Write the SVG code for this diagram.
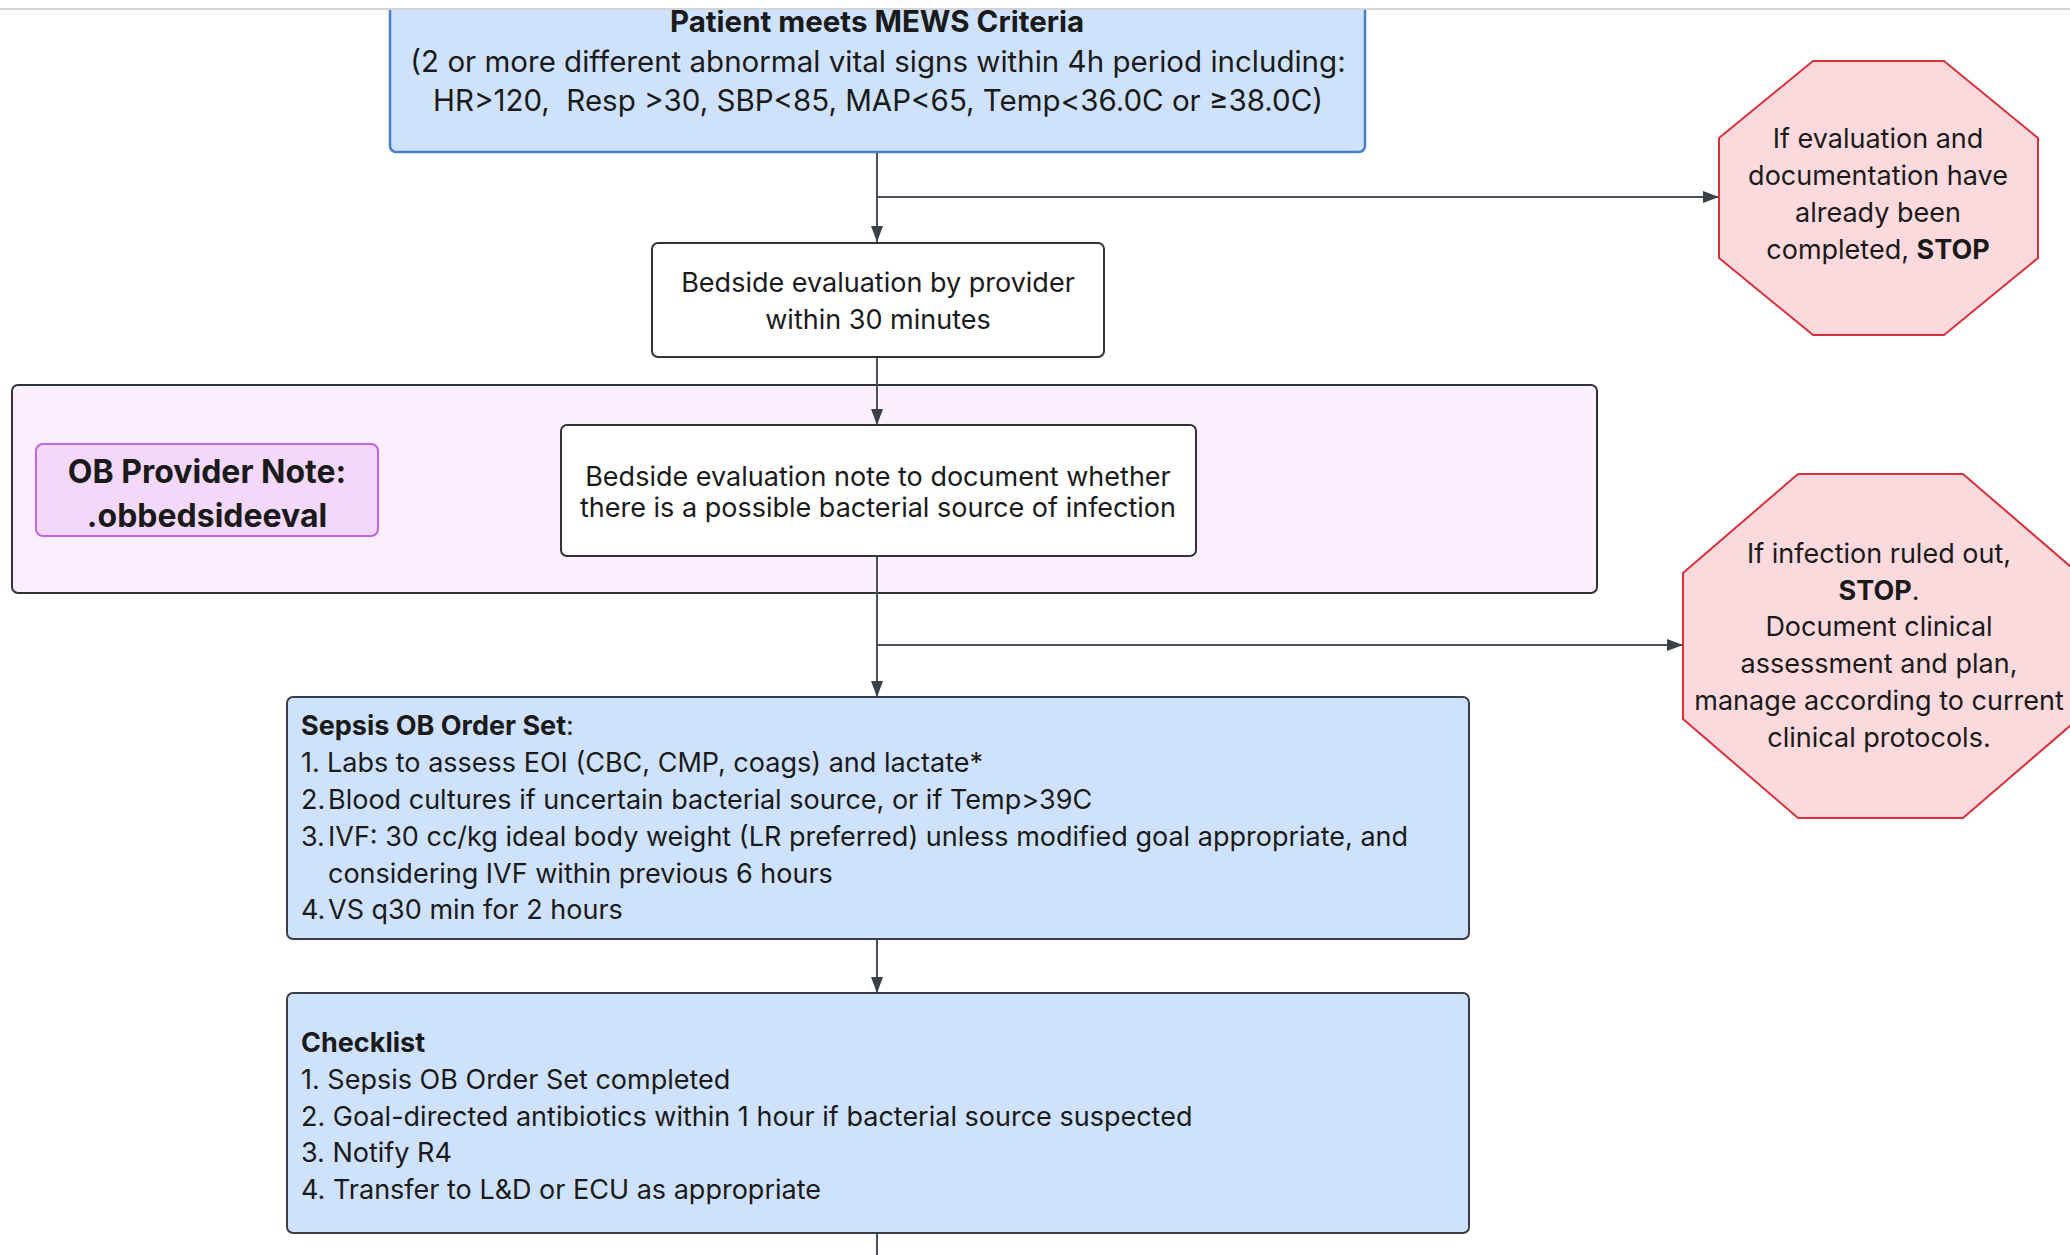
<svg xmlns="http://www.w3.org/2000/svg" width="2070" height="1255" viewBox="0 0 2070 1255">
<defs>
<style>
text{font-family:Inter,"Noto Sans","Liberation Sans",sans-serif;fill:#1a1a1a;}
.c{text-anchor:middle;}
.t29{font-size:29.5px;}
.t24{font-size:27px;}
.b{font-weight:700;}
.blue{fill:#cfe2fd;stroke:#3a3f47;stroke-width:2;}
.plain{fill:#ffffff;stroke:#2f3337;stroke-width:2;}
.stop{fill:#fcd9dc;stroke:#d9303a;stroke-width:2;stroke-linejoin:round;}
.conn{fill:none;stroke:#4a5059;stroke-width:2;}
</style>
<marker id="arr" markerUnits="userSpaceOnUse" markerWidth="16" markerHeight="12" refX="16" refY="6" orient="auto">
<path d="M0,0 L16,6 L0,12 z" fill="#3a4048"/>
</marker>
</defs>
<rect x="0" y="0" width="2070" height="1255" fill="#ffffff"/>

<g id="container-obnote">
<rect x="12" y="385" width="1585" height="208" rx="6" fill="#fbeefd" stroke="#2f3337" stroke-width="2"/>
</g>

<g id="connectors">
<path class="conn" d="M877 152 V242" marker-end="url(#arr)"/>
<path class="conn" d="M877 197 H1719" marker-end="url(#arr)"/>
<path class="conn" d="M877 357 V425" marker-end="url(#arr)"/>
<path class="conn" d="M877 556 V697" marker-end="url(#arr)"/>
<path class="conn" d="M877 645 H1683" marker-end="url(#arr)"/>
<path class="conn" d="M877 939 V993" marker-end="url(#arr)"/>
<path class="conn" d="M877 1233 V1255"/>
</g>

<g id="mews">
<rect x="390" y="-10" width="975" height="162" rx="6" fill="#cfe2fd" stroke="#4a7fc8" stroke-width="2.5"/>
<text class="c t29 b" x="877" y="32">Patient meets MEWS Criteria</text>
<text class="c t29" x="878" y="72">(2 or more different abnormal vital signs within 4h period including:</text>
<text class="c t29" x="878" y="111" xml:space="preserve">HR&gt;120,  Resp &gt;30, SBP&lt;85, MAP&lt;65, Temp&lt;36.0C or ≥38.0C)</text>
</g>

<g id="topbar">
<rect x="0" y="0" width="2070" height="9" fill="#ffffff"/>
<line x1="0" y1="9" x2="2070" y2="9" stroke="#d4d4d4" stroke-width="2"/>
</g>

<g id="stop1">
<polygon class="stop" points="1813,61 1944,61 2038,138 2038,258 1944,335 1813,335 1719,258 1719,138"/>
<text class="c t24" x="1878" y="148">If evaluation and</text>
<text class="c t24" x="1878" y="185">documentation have</text>
<text class="c t24" x="1878" y="222">already been</text>
<text class="c t24" x="1878" y="259">completed, <tspan class="b">STOP</tspan></text>
</g>

<g id="bedside">
<rect class="plain" x="652" y="243" width="452" height="114" rx="6"/>
<text class="c t24" x="878" y="292">Bedside evaluation by provider</text>
<text class="c t24" x="878" y="329">within 30 minutes</text>
</g>

<g id="obnote">
<rect x="36" y="444" width="342" height="92" rx="7" fill="#f4d8fb" stroke="#c065e8" stroke-width="2"/>
<text class="c b" x="207" y="483" font-size="32">OB Provider Note:</text>
<text class="c b" x="207" y="527" font-size="32">.obbedsideeval</text>
</g>

<g id="bedside-note">
<rect class="plain" x="561" y="425" width="635" height="131" rx="6"/>
<text class="c t24" x="878" y="486">Bedside evaluation note to document whether</text>
<text class="c t24" x="878" y="517">there is a possible bacterial source of infection</text>
</g>

<g id="stop2">
<polygon class="stop" points="1798,474 1963,474 2078,573 2078,719 1963,818 1798,818 1683,719 1683,573"/>
<text class="c t24" x="1879" y="563">If infection ruled out,</text>
<text class="c t24 b" x="1879" y="600">STOP<tspan font-weight="400">.</tspan></text>
<text class="c t24" x="1879" y="636">Document clinical</text>
<text class="c t24" x="1879" y="673">assessment and plan,</text>
<text class="c t24" x="1879" y="710">manage according to current</text>
<text class="c t24" x="1879" y="747">clinical protocols.</text>
</g>

<g id="orderset">
<rect class="blue" x="287" y="697" width="1182" height="242" rx="6"/>
<text class="t24" x="301" y="735"><tspan class="b">Sepsis OB Order Set</tspan>:</text>
<text class="t24" x="301" y="772">1.</text><text class="t24" x="327" y="772">Labs to assess EOI (CBC, CMP, coags) and lactate*</text>
<text class="t24" x="301" y="809">2.</text><text class="t24" x="328" y="809">Blood cultures if uncertain bacterial source, or if Temp&gt;39C</text>
<text class="t24" x="301" y="846">3.</text><text class="t24" x="328" y="846">IVF: 30 cc/kg ideal body weight (LR preferred) unless modified goal appropriate, and</text>
<text class="t24" x="328" y="883">considering IVF within previous 6 hours</text>
<text class="t24" x="301" y="919">4.</text><text class="t24" x="328" y="919">VS q30 min for 2 hours</text>
</g>

<g id="checklist">
<rect class="blue" x="287" y="993" width="1182" height="240" rx="6"/>
<text class="t24 b" x="301" y="1052">Checklist</text>
<text class="t24" x="301" y="1089">1. Sepsis OB Order Set completed</text>
<text class="t24" x="301" y="1126">2. Goal-directed antibiotics within 1 hour if bacterial source suspected</text>
<text class="t24" x="301" y="1162">3. Notify R4</text>
<text class="t24" x="301" y="1199">4. Transfer to L&amp;D or ECU as appropriate</text>
</g>
</svg>
